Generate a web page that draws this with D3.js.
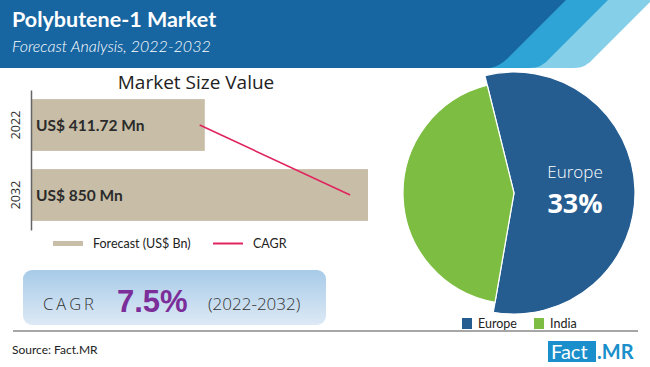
<!DOCTYPE html>
<html><head><meta charset="utf-8">
<script src="https://cdn.jsdelivr.net/npm/d3@7"></script>
<style>body{margin:0;background:#fff}svg{display:block}</style>
</head><body>
<script>
// ---- data ----
const years = ["2022", "2032"];
const marketValues = [411.72, 850];
const barLabels = ["US$ 411.72 Mn", "US$ 850 Mn"];
const cagrLinePoints = [398, 802];
const regions = ["Europe", "India"];
const regionShares = [56.6, 43.4];
const regionColors = ["#255d91", "#7dbe42"];
const highlightLabel = "Europe";
const highlightValue = "33%";
const cagrValue = "7.5%";
const cagrPeriod = "(2022-2032)";

const W = 650, H = 367;
const svg = d3.select("body").append("svg").attr("width", W).attr("height", H);
const F = "Lato, 'Open Sans', sans-serif";

// ---- pie ----
const cx = 514, cy = 193;
const radii = [121, 111];
const pie = d3.pie().sort(null).startAngle(-0.243).endAngle(-0.243 + 2 * Math.PI);
const arcs = pie(regionShares);
const pg = svg.append("g").attr("transform", `translate(${cx},${cy})`);
pg.selectAll("path").data(arcs).join("path")
  .attr("d", (d, i) => d3.arc().innerRadius(0).outerRadius(radii[i])(d))
  .attr("fill", (d, i) => regionColors[i])
  .attr("stroke", "#fff").attr("stroke-width", 1.2);
pg.append("text").attr("x", 61).attr("y", -15).attr("text-anchor", "middle")
  .attr("fill", "#fff").attr("font-family", "'Open Sans', sans-serif").attr("font-weight", 300).attr("font-size", 17).text(highlightLabel);
pg.append("text").attr("x", 61).attr("y", 20).attr("text-anchor", "middle")
  .attr("fill", "#fff").attr("font-family", "'Open Sans', sans-serif").attr("font-weight", "bold").attr("font-size", 27).text(highlightValue);

// pie legend
const lg = svg.append("g");
const legX = [462, 534];
regions.forEach((r, i) => {
  lg.append("rect").attr("x", legX[i]).attr("y", 318).attr("width", 10).attr("height", 11).attr("fill", regionColors[i]);
  lg.append("text").attr("x", legX[i] + 16).attr("y", 328).attr("font-family", F).attr("font-size", 12.5)
    .attr("fill", "#222").text(r);
});

// ---- header ----
const hd = svg.append("g");
hd.append("path").attr("d", "M0,0 H652 L594,58 Q586,68 574,68 H0 Z").attr("fill", "#86cfe9");
hd.append("path").attr("d", "M0,0 H608 L550,58 Q542,68 530,68 H0 Z").attr("fill", "#2ea4d6");
hd.append("path").attr("d", "M0,0 H566 L508,58 Q500,66 490,68 H0 Z").attr("fill", "#1766a2");
hd.append("text").attr("x", 12).attr("y", 27).attr("fill", "#fff").attr("font-family", F)
  .attr("font-weight", "bold").attr("font-size", 21.5).text("Polybutene-1 Market");
hd.append("text").attr("x", 12).attr("y", 52).attr("fill", "#fff").attr("font-family", F)
  .attr("font-style", "italic").attr("font-weight", 300).attr("font-size", 16).text("Forecast Analysis, 2022-2032");

// ---- bar chart ----
const x = d3.scaleLinear().domain([-55, 850]).range([31, 368]);
const y = d3.scaleBand().domain(years).range([90, 230]).paddingInner(0.26).paddingOuter(0.13);
svg.append("text").attr("x", 196).attr("y", 89).attr("text-anchor", "middle").attr("font-family", "'Open Sans', sans-serif")
  .attr("font-size", 19).attr("fill", "#222").text("Market Size Value");
const bg = svg.append("g");
bg.selectAll("rect").data(marketValues).join("rect")
  .attr("x", x.range()[0]).attr("y", (d, i) => y(years[i]))
  .attr("width", d => x(d) - x.range()[0]).attr("height", y.bandwidth()).attr("fill", "#c8bda6");
bg.selectAll("text.bl").data(barLabels).join("text").attr("class", "bl")
  .attr("x", 36).attr("y", (d, i) => y(years[i]) + y.bandwidth() / 2 + 5.5)
  .attr("font-family", F).attr("font-weight", "bold").attr("font-size", 15.5).attr("fill", "#2b2b2b").text(d => d);
const yAxis = svg.append("g").attr("transform", "translate(31,0)").call(d3.axisLeft(y).tickSize(0).tickPadding(0));
yAxis.select(".domain").attr("stroke", "#666").attr("stroke-width", 1.5);
yAxis.selectAll(".tick").attr("transform", null);
yAxis.selectAll("text").attr("transform", function(d){ return `translate(-11,${y(d)+y.bandwidth()/2}) rotate(-90)`; })
  .attr("x", 0).attr("y", 0).attr("dy", 0).attr("text-anchor", "middle")
  .attr("font-family", "'Open Sans', sans-serif").attr("font-size", 12.5).attr("fill", "#333");
const line = d3.line().x(d => x(d[0])).y(d => d[1]);
svg.append("path")
  .datum(cagrLinePoints.map((v, i) => [v, y(years[i]) + y.bandwidth() / 2]))
  .attr("d", line).attr("stroke", "#e0245e").attr("stroke-width", 1.6).attr("fill", "none");

// bar legend
svg.append("rect").attr("x", 53).attr("y", 241).attr("width", 30).attr("height", 5).attr("fill", "#c8bda6");
svg.append("text").attr("x", 93).attr("y", 247.5).attr("font-family", F).attr("font-size", 12.5).attr("fill", "#222").text("Forecast (US$ Bn)");
svg.append("line").attr("x1", 213).attr("x2", 243).attr("y1", 243.5).attr("y2", 243.5).attr("stroke", "#e0245e").attr("stroke-width", 2);
svg.append("text").attr("x", 253).attr("y", 247.5).attr("font-family", F).attr("font-size", 12.5).attr("fill", "#222").text("CAGR");

// ---- CAGR box ----
const defs = svg.append("defs");
const gr = defs.append("linearGradient").attr("id", "cg").attr("x1", 0).attr("x2", 0).attr("y1", 0).attr("y2", 1);
gr.append("stop").attr("offset", 0).attr("stop-color", "#a7cbe8");
gr.append("stop").attr("offset", 1).attr("stop-color", "#dde9f5");
svg.append("rect").attr("x", 23).attr("y", 270).attr("width", 303).attr("height", 55).attr("rx", 9).attr("fill", "url(#cg)");
svg.append("text").attr("x", 43).attr("y", 310).attr("font-family", "'Open Sans', sans-serif").attr("font-weight", 300).attr("font-size", 16.5)
  .attr("letter-spacing", 3).attr("fill", "#333").text("CAGR");
svg.append("text").attr("x", 117).attr("y", 312).attr("font-family", "'Liberation Sans', Arial, sans-serif").attr("font-weight", "bold")
  .attr("font-size", 31).attr("fill", "#7b2d99").text(cagrValue);
svg.append("text").attr("x", 208).attr("y", 310).attr("font-family", "'Open Sans', sans-serif").attr("font-weight", 300).attr("font-size", 17)
  .attr("fill", "#333").text(cagrPeriod);

// ---- footer ----
svg.append("line").attr("x1", 13).attr("x2", 638).attr("y1", 331).attr("y2", 331).attr("stroke", "#888").attr("stroke-width", 1.5);
svg.append("text").attr("x", 12).attr("y", 354).attr("font-family", F).attr("font-size", 12).attr("fill", "#222").text("Source: Fact.MR");
svg.append("rect").attr("x", 548).attr("y", 341).attr("width", 48).attr("height", 21).attr("fill", "#1a8fcb");
svg.append("text").attr("x", 551).attr("y", 359).attr("font-family", F).attr("font-size", 20).attr("fill", "#fff").text("Fact");
svg.append("text").attr("x", 597).attr("y", 359).attr("font-family", F).attr("font-weight", "bold").attr("font-size", 20).attr("fill", "#1a8fcb").text(".MR");
</script>
</body></html>
